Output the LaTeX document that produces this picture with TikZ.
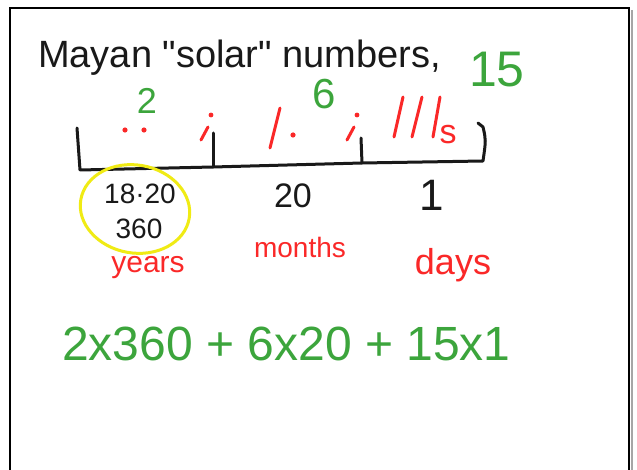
\documentclass[tikz,border=0pt]{standalone}
\usepackage{fontspec}
\setmainfont{Liberation Sans}

\newcommand*{\fleft}{10}
\newcommand*{\fright}{629}
\newcommand*{\ftop}{8}
\newcommand*{\fbot}{472}

\definecolor{penred}{RGB}{250,40,40}
\definecolor{pengreen}{RGB}{60,165,60}
\definecolor{penyellow}{RGB}{240,235,20}
\definecolor{penblack}{RGB}{25,25,25}

\begin{document}
\begin{tikzpicture}
[
	x=1pt, y=-1pt,
	pen/.style={line width=3pt,line cap=round,line join=round},
	hand/.style={inner sep=0pt,font=\fontsize{#1}{#1}\selectfont},
	hand/.default=30
]
	\useasboundingbox (0,0) rectangle (637,470);
	\fill[white] (0,0) rectangle (637,470);

	% frame
	\draw[gray!70,line width=2pt] (\fright+3,\ftop+2) -- (\fright+3,\fbot);
	\draw[line width=2pt] (\fleft,\fbot) -- (\fleft,\ftop) -- (\fright,\ftop) -- (\fright,\fbot);

	% title
	\node[hand=38,penblack,anchor=base west] (title) at (38,68)
		{Mayan \textquotedbl solar\textquotedbl{} numbers,};

	% digit values
	\node[hand=36,pengreen] (two) at (147,101) {2};
	\node[hand=42,pengreen] (six) at (324,94) {6};
	\node[hand=50,pengreen] (fifteen) at (497,70) {15};

	% bracket
	\draw[pen,penblack] (77,128) -- (80,170) -- (213,167) -- (362,163) -- (483,161)
		.. controls (486,140) .. (483,127) -- (478,123);
	\draw[pen,penblack] (213,167) -- (213,133);
	\draw[pen,penblack] (362,163) -- (361,138);

	% mayan digits
	\fill[penred] (125,130) circle (2.6pt) (144,130) circle (2.6pt);
	\draw[pen,penred] (280,108) -- (270,148);
	\fill[penred] (293,135) circle (2.6pt);
	\foreach \a/\b in {403/394,422/412,440/433} {
		\draw[pen,penred] (\a,97) -- (\b,137);
	}
	\node[hand=34,penred] (sub) at (448,135) {s};

	% separators
	\foreach \sx in {211,357} {
		\fill[penred] (\sx,115) circle (2.4pt);
		\draw[pen,penred] (\sx-3,127) -- (\sx-10,140);
	}

	% place values
	\node[hand=28,penblack] (v1) at (140,194) {18·20};
	\node[hand=28,penblack] (v2) at (139,229) {360};
	\draw[penyellow,line width=3pt,rotate around={-10:(135,209)}]
		(135,209) ellipse [x radius=55pt,y radius=44pt];
	\node[hand=34,penblack] (v3) at (293,196) {20};
	\node[hand=44,penblack] (v4) at (432,195) {1};

	% units
	\node[hand=30,penred] (years) at (148,268) {years};
	\node[hand=28,penred] (months) at (300,247) {months};
	\node[hand=36,penred] (days) at (453,265) {days};

	% sum
	\node[hand=48,pengreen,anchor=base west] (sum) at (62,360) {2x360 + 6x20 + 15x1};

\end{tikzpicture}
\end{document}
